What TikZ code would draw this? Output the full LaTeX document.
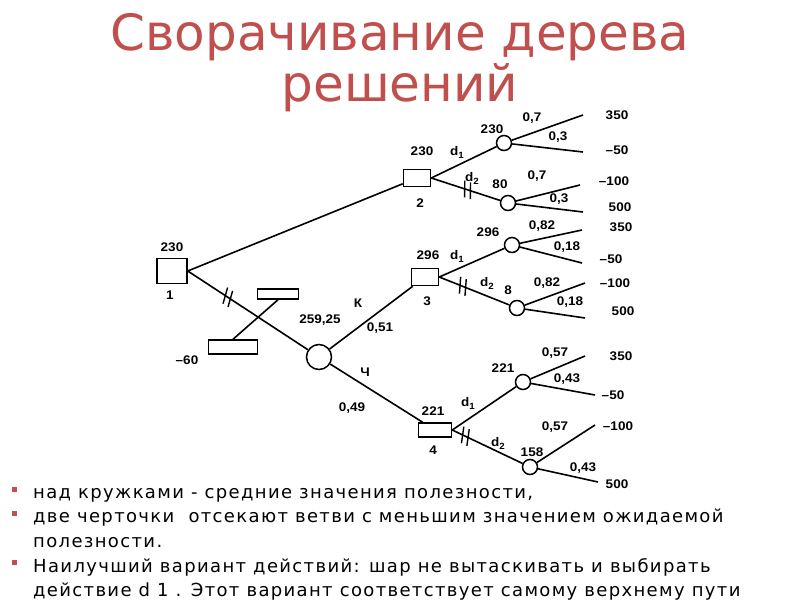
\documentclass[tikz,border=0pt]{standalone}
\usepackage{fontspec}
\setmainfont{Liberation Sans}
\newfontfamily\titlefont{DejaVu Sans}
\newfontfamily\bodyfont[LetterSpace=7.5]{DejaVu Sans}
\newfontfamily\lblfont[FakeStretch=1.08]{Liberation Sans}
\usetikzlibrary{decorations.markings}
\definecolor{titlered}{RGB}{192,80,77}
\definecolor{bulletred}{RGB}{192,80,77}
\newcommand{\dsub}[1]{d\raisebox{-3pt}{\fontsize{9}{9}\selectfont #1}}
\begin{document}
\begin{tikzpicture}[x=1pt,y=-1pt,
  decbox/.style={draw, line width=1.5pt, rectangle, minimum width=27pt, minimum height=17pt, inner sep=0pt},
  chn/.style={draw, line width=1.5pt, circle, minimum size=15pt, inner sep=0pt},
  lbl/.style={font=\lblfont\bfseries\fontsize{12.5}{13}\selectfont, inner sep=0pt},
  edge/.style={line width=1.6pt},
  hashcut/.style={postaction={decorate, decoration={markings, mark=at position #1 with {\draw[line width=1.4pt] (-5,-8)--(0,8); \draw[line width=1.4pt] (1,-8)--(6,8);}}}},
  bodytxt/.style={font=\bodyfont\fontsize{18}{18}\selectfont, anchor=base west, inner sep=0pt},
  bul/.style={fill=bulletred, minimum size=5pt, inner sep=0pt}
]
\useasboundingbox (0,0) rectangle (800,600);
\fill[white] (0,0) rectangle (800,600);

% title
\node[font=\titlefont\fontsize{50}{50}\selectfont, text=titlered, anchor=base, inner sep=0pt] (t1) at (400,50) {Сворачивание дерева};
\node[font=\titlefont\fontsize{50}{50}\selectfont, text=titlered, anchor=base, inner sep=0pt] (t2) at (400,101) {решений};

% decision nodes
\node[decbox, minimum width=30pt, minimum height=25pt] (n1) at (172,271) {};
\node[decbox] (n2) at (417,178) {};
\node[decbox] (n3) at (425,277) {};
\node[decbox, minimum width=33pt, minimum height=14pt] (n4) at (435,430) {};
% chance nodes
\node[chn, minimum size=25pt] (c0) at (319,357) {};
\node[chn] (c2a) at (504,143) {};
\node[chn] (c2b) at (508,203) {};
\node[chn] (c3a) at (512,245) {};
\node[chn] (c3b) at (517,308) {};
\node[chn] (c4a) at (523,382) {};
\node[chn] (c4b) at (530,467) {};
% discarded branch rectangles
\node[decbox, minimum width=41pt, minimum height=10pt] (ru) at (278,294) {};
\node[decbox, minimum width=49pt, minimum height=14pt] (rl) at (233,347) {};

% leaf coordinates
\coordinate (e2a1) at (583,115); \coordinate (e2a2) at (583,152);
\coordinate (e2b1) at (580,185); \coordinate (e2b2) at (583,212);
\coordinate (e3a1) at (582,230); \coordinate (e3a2) at (582,263);
\coordinate (e3b1) at (585,283); \coordinate (e3b2) at (585,318);
\coordinate (e4a1) at (585,356); \coordinate (e4a2) at (595,395);
\coordinate (e4b1) at (595,425); \coordinate (e4b2) at (598,482);

% edges
\draw[edge] (n1.east) -- (n2);
\draw[edge, hashcut=0.33] (n1.east) -- (c0);
\draw[edge] (rl.north) -- (ru.south);
\draw[edge] (c0) -- (n3);
\draw[edge] (c0) -- (n4);
\draw[edge] (n2.east) -- (c2a);
\draw[edge, hashcut=0.52] (n2.east) -- (c2b);
\draw[edge] (n3.east) -- (c3a);
\draw[edge, hashcut=0.33] (n3.east) -- (c3b);
\draw[edge] (n4.east) -- (c4a);
\draw[edge, hashcut=0.18] (n4.east) -- (c4b);
\draw[edge] (c2a) -- (e2a1); \draw[edge] (c2a) -- (e2a2);
\draw[edge] (c2b) -- (e2b1); \draw[edge] (c2b) -- (e2b2);
\draw[edge] (c3a) -- (e3a1); \draw[edge] (c3a) -- (e3a2);
\draw[edge] (c3b) -- (e3b1); \draw[edge] (c3b) -- (e3b2);
\draw[edge] (c4a) -- (e4a1); \draw[edge] (c4a) -- (e4a2);
\draw[edge] (c4b) -- (e4b1); \draw[edge] (c4b) -- (e4b2);

% leaf values
\node[lbl] (v1) at (617,115) {350};
\node[lbl] (v2) at (617,150) {–50};
\node[lbl] (v3) at (614,181) {–100};
\node[lbl] (v4) at (620,207) {500};
\node[lbl] (v5) at (621,227) {350};
\node[lbl] (v6) at (611,259) {–50};
\node[lbl] (v7) at (615,283) {–100};
\node[lbl] (v8) at (623,311) {500};
\node[lbl] (v9) at (621,356) {350};
\node[lbl] (v10) at (613,395) {–50};
\node[lbl] (v11) at (618,426) {–100};
\node[lbl] (v12) at (617,484) {500};

% probabilities
\node[lbl] (p1) at (532,118) {0,7};
\node[lbl] (p2) at (558,137) {0,3};
\node[lbl] (p3) at (537,176) {0,7};
\node[lbl] (p4) at (559,199) {0,3};
\node[lbl] (p5) at (542,226) {0,82};
\node[lbl] (p6) at (567,247) {0,18};
\node[lbl] (p7) at (547,283) {0,82};
\node[lbl] (p8) at (570,302) {0,18};
\node[lbl] (p9) at (555,353) {0,57};
\node[lbl] (p10) at (567,379) {0,43};
\node[lbl] (p11) at (555,427) {0,57};
\node[lbl] (p12) at (583,468) {0,43};

% chance values
\node[lbl] (m1) at (492,129) {230};
\node[lbl] (m2) at (500,184) {80};
\node[lbl] (m3) at (488,232) {296};
\node[lbl] (m4) at (508,290) {8};
\node[lbl] (m5) at (503,368) {221};
\node[lbl] (m6) at (532,452) {158};

% decision values and numbers
\node[lbl] (a1) at (172,247) {230};
\node[lbl] (b1) at (170,295) {1};
\node[lbl] (a2) at (422,151) {230};
\node[lbl] (b2) at (420,203) {2};
\node[lbl] (a3) at (428,255) {296};
\node[lbl] (b3) at (427,301) {3};
\node[lbl] (a4) at (433,411) {221};
\node[lbl] (b4) at (433,450) {4};

% action labels
\node[lbl] (d21) at (457,152) {\dsub{1}};
\node[lbl] (d22) at (472,178) {\dsub{2}};
\node[lbl] (d31) at (457,256) {\dsub{1}};
\node[lbl] (d32) at (487,283) {\dsub{2}};
\node[lbl] (d41) at (468,403) {\dsub{1}};
\node[lbl] (d42) at (498,443) {\dsub{2}};

% other labels
\node[lbl] (ev) at (320,320) {259,25};
\node[lbl] (lk) at (358,303) {К};
\node[lbl] (pk) at (380,328) {0,51};
\node[lbl] (lc) at (365,372) {Ч};
\node[lbl] (pc) at (352,408) {0,49};
\node[lbl] (m60) at (187,360) {–60};

% bullets
\node[bul] (q1) at (14,489) {};
\node[bul] (q2) at (14,513) {};
\node[bul] (q3) at (14,562) {};
\node[bodytxt] (s1) at (33,498) {над кружками - средние значения полезности,};
\node[bodytxt] (s2) at (33,522) {две черточки \ отсекают ветви с меньшим значением ожидаемой};
\node[bodytxt] (s3) at (33,547) {полезности.};
\node[bodytxt] (s4) at (33,572) {Наилучший вариант действий: шар не вытаскивать и выбирать};
\node[bodytxt] (s5) at (33,596) {действие d 1 . Этот вариант соответствует самому верхнему пути};
\end{tikzpicture}
\end{document}
